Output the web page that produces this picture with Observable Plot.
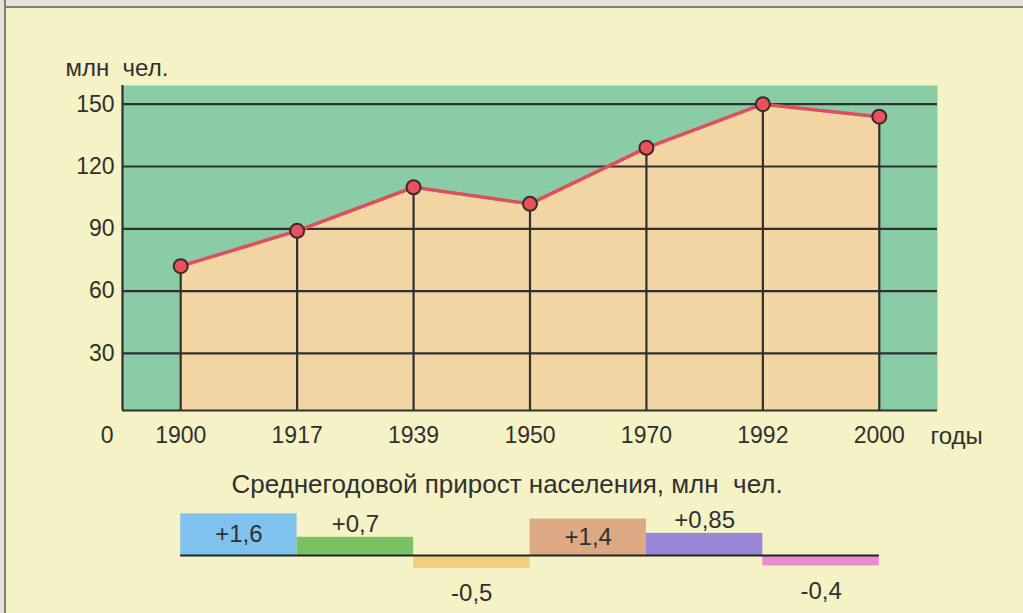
<!DOCTYPE html>
<html>
<head>
<meta charset="utf-8">
<script src="https://cdn.jsdelivr.net/npm/d3@7"></script>
<script src="https://cdn.jsdelivr.net/npm/@observablehq/plot@0.6"></script>
<style>
  html, body { margin: 0; padding: 0; background: #f5f2c6; }
  #wrap { position: relative; width: 1023px; height: 613px; overflow: hidden; background: #f5f2c6; }
  #edgeTop { position: absolute; left: 0; top: 0; width: 1023px; height: 6px; background: #e4e4da; border-bottom: 2px solid #7e7e74; }
  #edgeLeft { position: absolute; left: 0; top: 0; width: 4px; height: 613px; background: #e4e4da; border-right: 2px solid #7e7e74; }
  #topChart, #bottomChart { position: absolute; left: 0; }
  #topChart { top: 0; }
  #bottomChart { top: 450px; }
</style>
</head>
<body>
<div id="wrap">
  <div id="edgeTop"></div>
  <div id="edgeLeft"></div>
  <div id="topChart"></div>
  <div id="bottomChart"></div>
</div>
<script>
// ---- data ----
const years = ["1900", "1917", "1939", "1950", "1970", "1992", "2000"];
const population = [72, 89, 110, 102, 129, 150, 144];
const yTicks = [30, 60, 90, 120, 150];
const growth = [1.6, 0.7, -0.5, 1.4, 0.85, -0.4];
const yLabel = "млн\u00a0 чел.";
const xLabel = "годы";
const originLabel = "0";
const growthTitle = "Среднегодовой прирост населения, млн\u00a0 чел.";

// ---- styles ----
const barColors = ["#80c2ee", "#78c264", "#f2cf7c", "#dca982", "#9a86d6", "#e98bd2"];
const FONT = "'Liberation Sans', Arial, sans-serif";
const INK = "#303030";
const Y_MIN = 2.5;
const FS = 23;

const popData = years.map((y, i) => ({i, year: y, value: population[i]}));
const growthData = growth.map((v, i) => ({i, value: v, label: (v > 0 ? "+" : "") + String(v).replace(".", ",")}));

const xScale = {type: "linear", domain: [-0.5, years.length - 0.5]};

const topPlot = Plot.plot({
  width: 1023,
  height: 450,
  marginLeft: 122,
  marginRight: 86,
  marginTop: 85,
  marginBottom: 40,
  style: {background: "none", fontFamily: FONT, fontSize: FS + "px", color: INK, overflow: "visible"},
  x: xScale,
  y: {domain: [Y_MIN, 159]},
  marks: [
    Plot.frame({fill: "#8acca6", stroke: "none"}),
    Plot.areaY(popData, {x: "i", y1: Y_MIN, y2: "value", fill: "#f2d5a3"}),
    Plot.ruleY(yTicks, {stroke: INK, strokeWidth: 2.2}),
    Plot.ruleY([Y_MIN], {stroke: INK, strokeWidth: 2.2}),
    Plot.ruleX([-0.5], {stroke: INK, strokeWidth: 2.2}),
    Plot.ruleX(popData, {x: "i", y1: Y_MIN, y2: "value", stroke: INK, strokeWidth: 2.2}),
    Plot.line(popData, {x: "i", y: "value", stroke: "#dd4f5d", strokeWidth: 3.5}),
    Plot.dot(popData, {x: "i", y: "value", r: 7, fill: "#e8525f", stroke: "#3a2a2a", strokeWidth: 2}),
    Plot.axisY({ticks: yTicks, tickSize: 0, tickPadding: 8, label: null, fontSize: FS}),
    Plot.axisX({ticks: d3.range(years.length), tickFormat: i => years[i], tickSize: 0, tickPadding: 16, label: null, fontSize: FS}),
    Plot.text([originLabel], {frameAnchor: "bottom-left", textAnchor: "end", lineAnchor: "top", dx: -9, dy: 16, fontSize: FS, fill: INK}),
    Plot.text([xLabel], {frameAnchor: "bottom-right", textAnchor: "start", lineAnchor: "top", dx: -7, dy: 16, fontSize: FS + 1, fill: INK}),
    Plot.text([yLabel], {frameAnchor: "top-left", textAnchor: "start", lineAnchor: "bottom", dx: -57, dy: -10, fontSize: FS + 1, fill: INK, letterSpacing: "0.8px"})
  ]
});
document.getElementById("topChart").appendChild(topPlot);

const bottomPlot = Plot.plot({
  width: 1023,
  height: 163,
  marginLeft: 122,
  marginRight: 86,
  marginTop: 0,
  marginBottom: 0,
  style: {background: "none", fontFamily: FONT, fontSize: FS + "px", color: INK, overflow: "visible"},
  x: {...xScale, axis: null},
  y: {domain: [-2.231, 4.038], axis: null},
  marks: [
    Plot.text([growthTitle], {frameAnchor: "top", lineAnchor: "bottom", dx: -23, dy: 42, fontSize: 26, fill: INK, letterSpacing: "0.8px"}),
    Plot.rect(growthData, {x1: "i", x2: d => d.i + 1, y1: 0, y2: "value", fill: (d, i) => barColors[i]}),
    Plot.ruleY([0], {x1: 0, x2: years.length - 1, stroke: "#222", strokeWidth: 2.2}),
    Plot.text(growthData.filter(d => d.value >= 1), {x: d => d.i + 0.5, y: d => d.value / 2, text: "label", fontSize: 24, fill: INK, letterSpacing: "1.3px"}),
    Plot.text(growthData.filter(d => d.value > 0 && d.value < 1), {x: d => d.i + 0.5, y: "value", dy: -13, text: "label", fontSize: 24, fill: INK, letterSpacing: "1px"}),
    Plot.text(growthData.filter(d => d.value < 0), {x: d => d.i + 0.5, y: "value", dy: 25, text: "label", fontSize: 24, fill: INK, letterSpacing: "1px"})
  ]
});
document.getElementById("bottomChart").appendChild(bottomPlot);
</script>
</body>
</html>
